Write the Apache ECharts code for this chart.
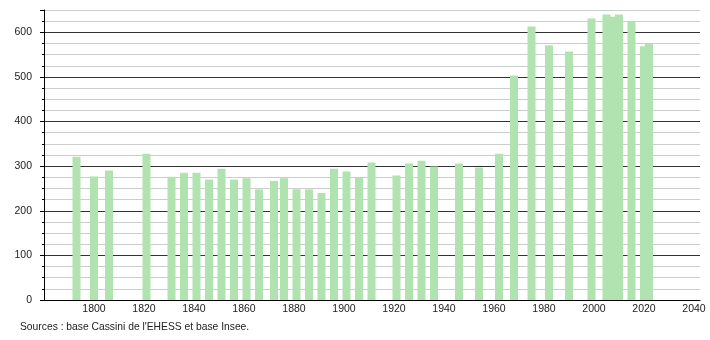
<!DOCTYPE html>
<html>
<head>
<meta charset="utf-8">
<script src="https://cdn.jsdelivr.net/npm/echarts@6/dist/echarts.min.js"></script>
<style>html,body{margin:0;padding:0;background:#fff}#c{width:710px;height:340px}</style>
</head>
<body>
<div id="c"></div>
<script>
const years = [1793,1800,1806,1821,1831,1836,1841,1846,1851,1856,1861,1866,1872,1876,1881,1886,1891,1896,1901,1906,1911,1921,1926,1931,1936,1946,1954,1962,1968,1975,1982,1990,1999,2005,2008,2010,2015,2020,2022];
const population = [321,277,290,328,276,285,285,270,294,270,273,248,267,273,248,248,240,294,288,274,308,279,306,312,299,306,297,328,503,613,571,557,631,640,635,640,623,569,574];
const yTicks = [0,100,200,300,400,500,600,650];
const xTickLabels = [1800,1820,1840,1860,1880,1900,1920,1940,1960,1980,2000,2020,2040];
const sourceText = "Sources : base Cassini de l'EHESS et base Insee.";

const chart = echarts.init(document.getElementById('c'), null, {renderer: 'canvas'});
const font = 'Liberation Sans, Arial, sans-serif';
const lineColors = yTicks.map(v => (v % 100 === 0 ? '#333333' : '#cccccc'));
chart.setOption({
  animation: false,
  backgroundColor: '#ffffff',
  grid: {left: 44, right: 10, top: 10, bottom: 40, containLabel: false},
  xAxis: {
    type: 'value', min: 1780, max: 2042.4, interval: 20,
    axisLine: {show: true, lineStyle: {color: '#000', width: 1}},
    axisTick: {show: false},
    splitLine: {show: false},
    axisLabel: {
      showMinLabel: false, showMaxLabel: false,
      color: '#222', fontFamily: font, fontSize: 10.5, margin: 4,
      formatter: v => (xTickLabels.includes(v) ? String(v) : '')
    }
  },
  yAxis: {
    type: 'value', min: 0, max: yTicks[yTicks.length - 1], interval: 100,
    axisLine: {show: true, lineStyle: {color: '#000', width: 1}},
    axisTick: {show: true, length: 4, lineStyle: {color: '#000'}},
    minorTick: {show: true, splitNumber: 4, length: 2, lineStyle: {color: '#000'}},
    splitLine: {show: true, lineStyle: {color: lineColors, width: 1}},
    minorSplitLine: {show: true, lineStyle: {color: '#cccccc', width: 1}},
    axisLabel: {
      showMaxLabel: false,
      color: '#222', fontFamily: font, fontSize: 10.5, margin: 12,
      formatter: v => (v % 100 === 0 ? String(v) : '')
    }
  },
  series: [{
    type: 'bar',
    data: years.map((y, i) => [y, population[i]]),
    barWidth: 8,
    itemStyle: {color: '#b0e3b0'},
    silent: true
  }],
  graphic: [{
    type: 'text', left: 20, top: 322,
    style: {text: sourceText, fill: '#222', font: '10.3px ' + font}
  }]
});
</script>
</body>
</html>
